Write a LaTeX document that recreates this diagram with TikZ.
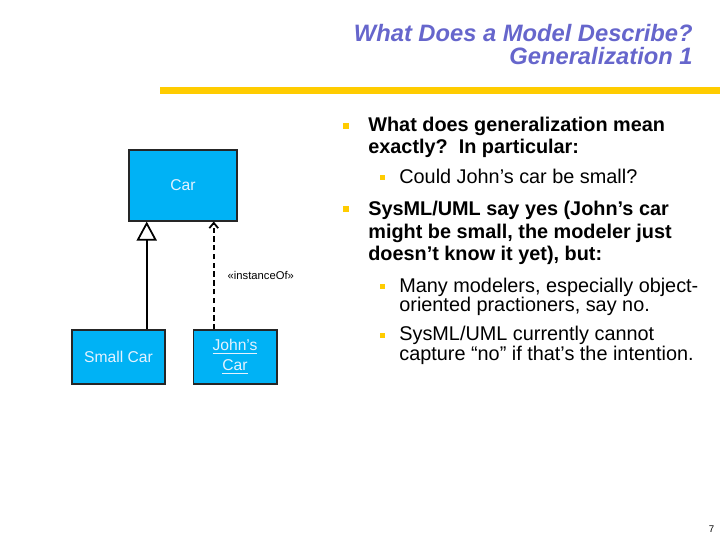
\documentclass[tikz,border=0pt]{standalone}
\usepackage{fontspec}
\setmainfont{Liberation Sans}
\usetikzlibrary{arrows.meta,positioning,calc}
\definecolor{titleblue}{RGB}{102,102,204}
\definecolor{baryellow}{RGB}{255,204,0}
\definecolor{boxblue}{RGB}{0,178,245}
\definecolor{boxtext}{RGB}{228,242,255}

\begin{document}
\begin{tikzpicture}[x=0.02cm, y=-0.02cm, >=Latex,
  umlbox/.style={draw=black!85, line width=0.6pt, fill=boxblue, text=boxtext, font=\fontsize{8.9}{11.3}\selectfont, align=center, inner sep=0pt},
  mainitem/.style={anchor=base west, inner sep=0pt, align=left, font=\fontsize{11.3}{13}\selectfont\bfseries},
  subitem/.style={anchor=base west, inner sep=0pt, align=left, font=\fontsize{11.3}{11}\selectfont},
  bigdot/.style={fill=baryellow, inner sep=0pt, minimum size=0.11cm},
  smalldot/.style={fill=baryellow, inner sep=0pt, minimum size=0.1cm}]
  \useasboundingbox (0,0) rectangle (720,540);
  % title and bar
  \node[anchor=base east, inner sep=0pt, align=right, text=titleblue, font=\fontsize{13.5}{13}\selectfont\bfseries\itshape] (title) at (693,64.5) {What Does a Model Describe?\\Generalization 1};
  \fill[baryellow] (160,87) rectangle (720,94);
  % uml diagram
  \node[umlbox, minimum width=2.16cm, minimum height=1.42cm] (car) at (183,185.5) {Car};
  \node[umlbox, minimum width=1.86cm, minimum height=1.08cm] (smallcar) at (118.5,357) {Small Car};
  \node[umlbox, minimum width=1.68cm, minimum height=1.08cm, right=0.54cm of smallcar] (johnscar) {\underline{John's}\\\underline{Car}};
  \coordinate (genfoot) at ($(smallcar.north)!0.6!(smallcar.north east)$);
  \coordinate (depfoot) at ($(johnscar.north)!0.5!(johnscar.north west)$);
  \draw[line width=1pt, -{Triangle[open, length=0.38cm, width=0.4cm, fill=white]}] (genfoot) -- (genfoot |- car.south);
  \draw[line width=1pt, dash pattern=on 3pt off 2pt, -{Straight Barb[length=3pt, width=5pt]}] (depfoot) -- (depfoot |- car.south)
    node[midway, right=0.26cm, inner sep=0pt, font=\fontsize{6.4}{8}\selectfont] (instof) {«instanceOf»};
  % bullets
  \node[bigdot] (b1) at (346,126) {};
  \node[mainitem] (t1) at (368,154) {What does generalization mean\\exactly?\ \ In particular:};
  \node[smalldot] (b11) at (382,177.5) {};
  \node[subitem] (t11) at (399,184) {Could John’s car be small?};
  \node[bigdot] (b2) at (346,209) {};
  \node[mainitem] (t2) at (368,261) {SysML/UML say yes (John’s car\\might be small, the modeler just\\doesn’t know it yet), but:};
  \node[smalldot] (b21) at (382,286.5) {};
  \node[subitem] (t21) at (399,312) {Many modelers, especially object-\\oriented practioners, say no.};
  \node[smalldot] (b22) at (382,335.5) {};
  \node[subitem] (t22) at (399,360) {SysML/UML currently cannot\\capture “no” if that’s the intention.};
  \node[anchor=base, inner sep=0pt, font=\fontsize{5.5}{6}\selectfont] (pageno) at (711.5,532) {7};
\end{tikzpicture}
\end{document}
